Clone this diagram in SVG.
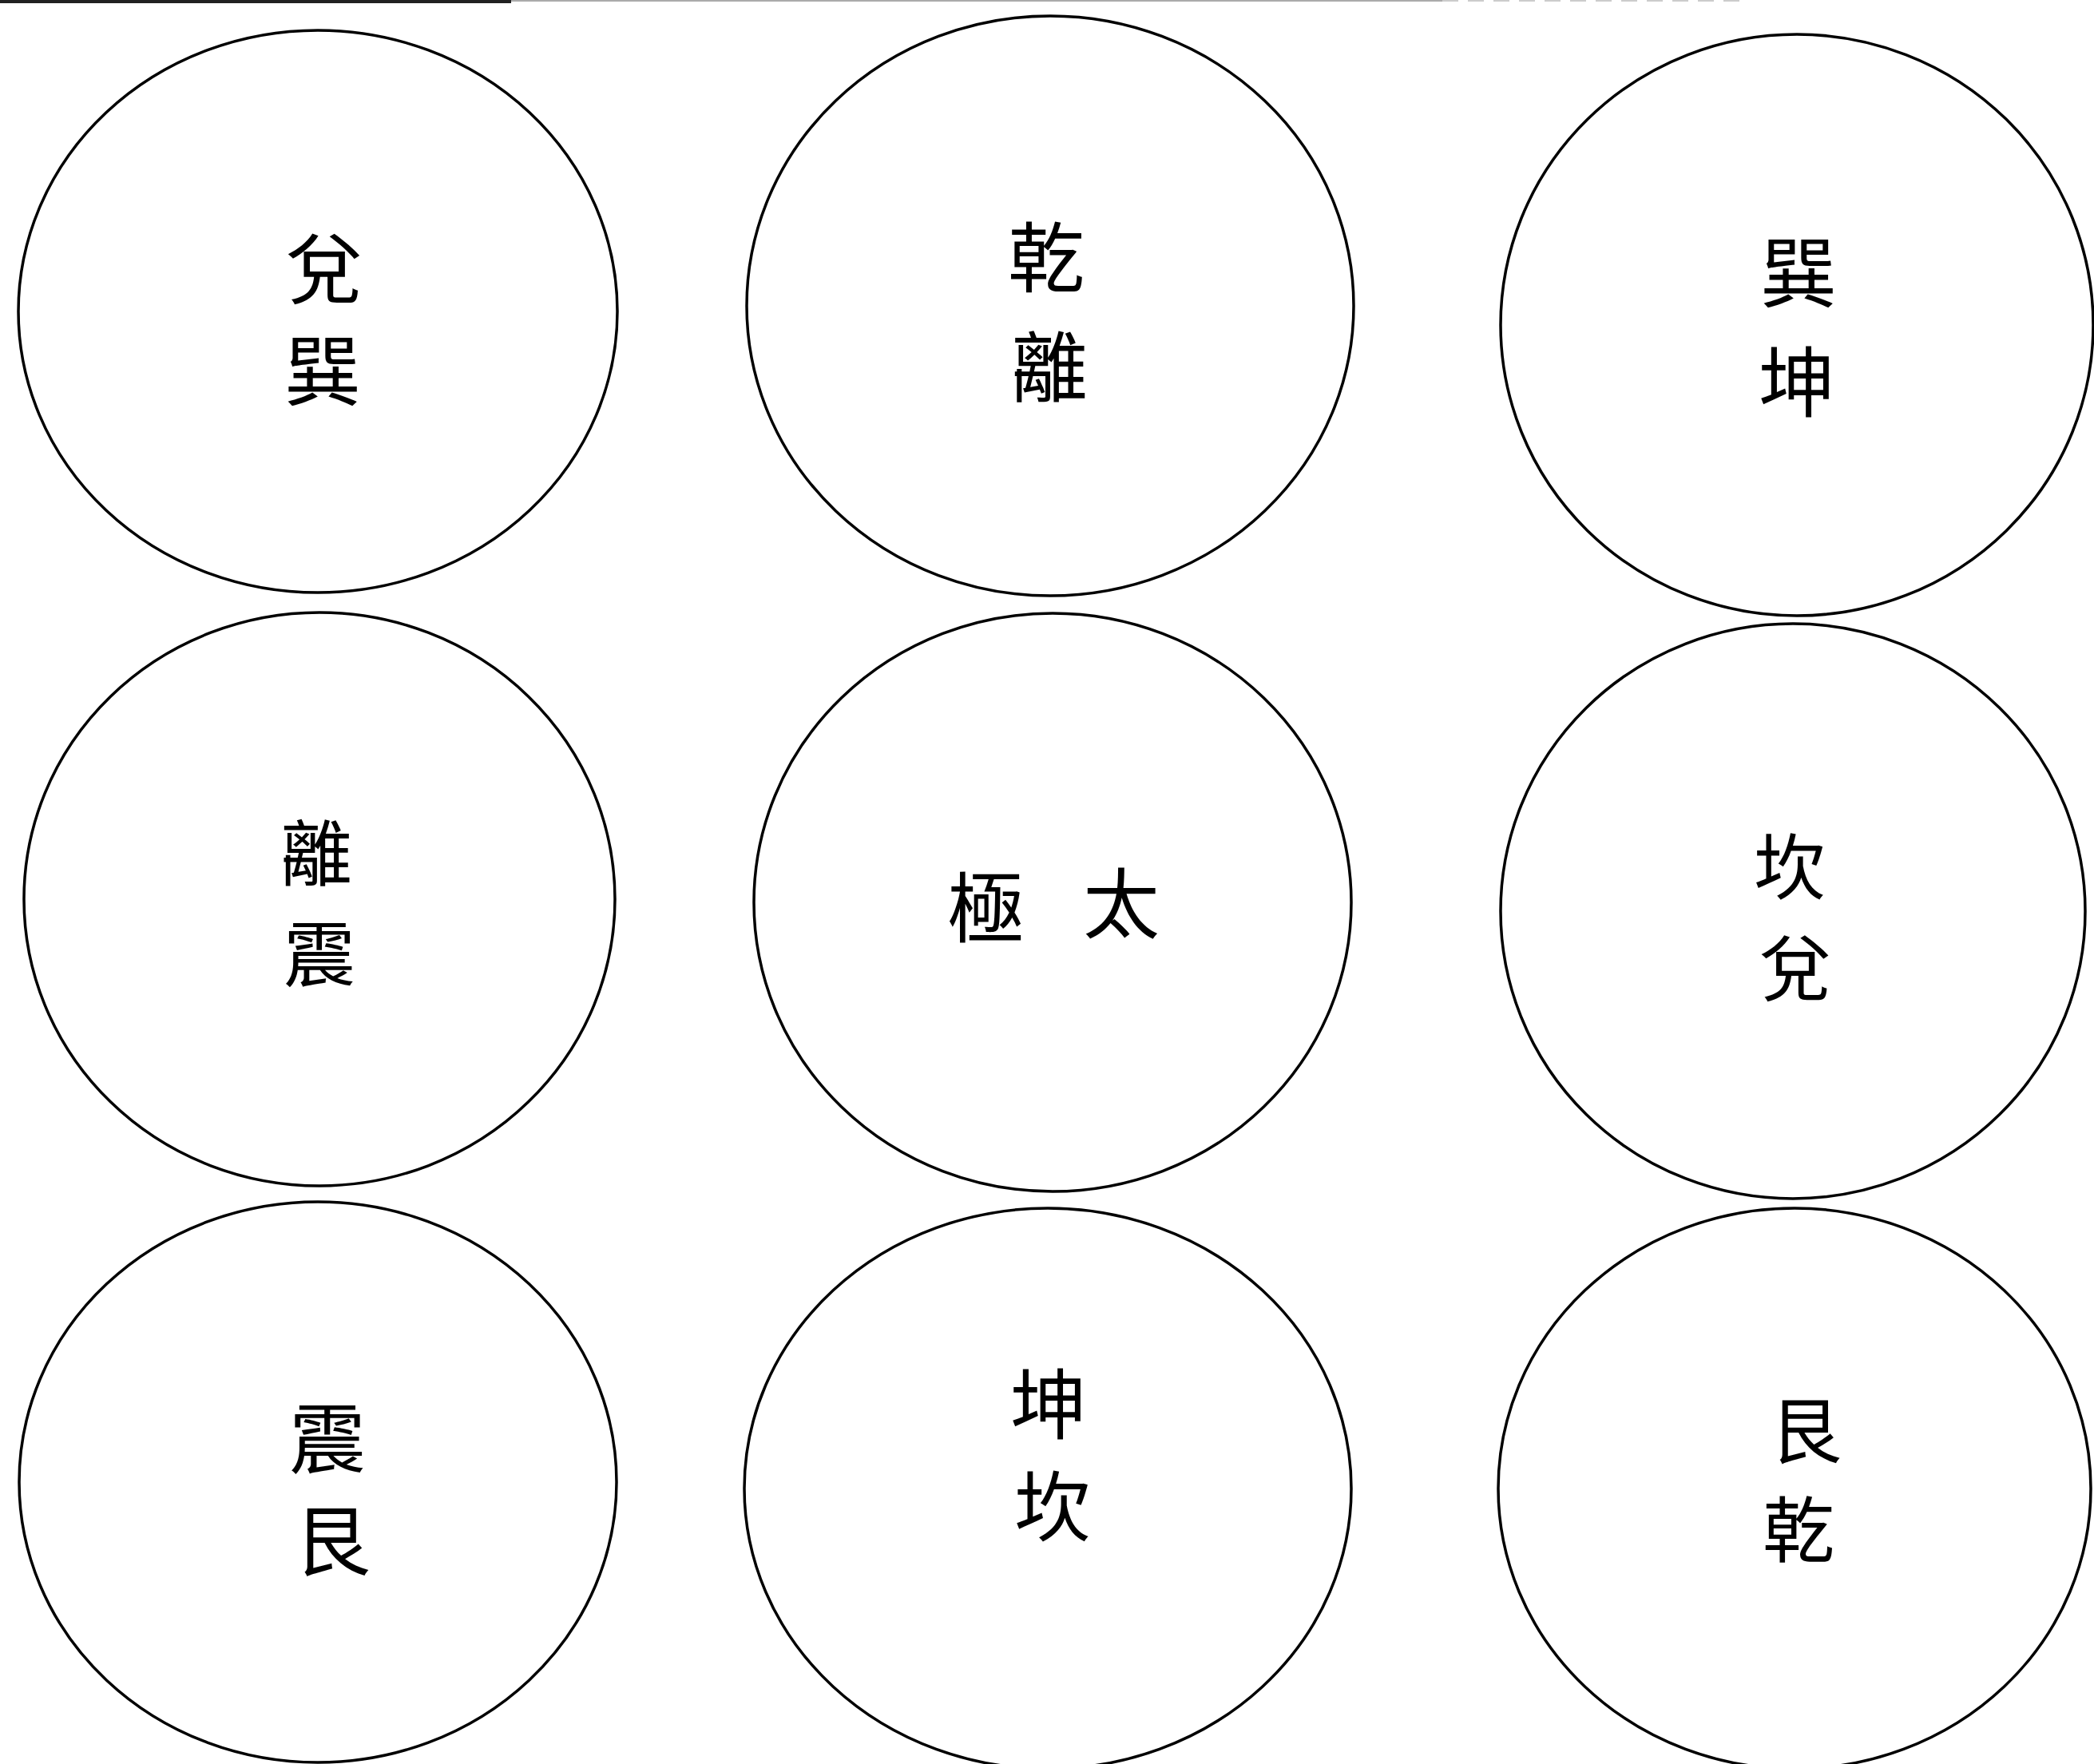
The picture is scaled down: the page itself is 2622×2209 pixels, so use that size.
<svg xmlns="http://www.w3.org/2000/svg" width="2622" height="2209" viewBox="0 0 2622 2209">
<style>
.c{fill:none;stroke:#000;stroke-width:3.5}
.t{font-family:"Noto Sans CJK TC","Noto Sans CJK SC",serif;font-size:96px;fill:#000;text-anchor:middle;dominant-baseline:central}
.s{font-size:90px}
</style>
<rect width="2622" height="2209" fill="#fff"/>
<g id="border">
<line x1="0" y1="2" x2="640" y2="2" stroke="#222" stroke-width="4"/>
<line x1="640" y1="1" x2="1806" y2="1" stroke="#aaa" stroke-width="2"/>
<line x1="1806" y1="1" x2="2190" y2="1" stroke="#ccc" stroke-width="2" stroke-dasharray="20 12"/>
</g>
<g id="n1"><ellipse class="c" cx="398" cy="390" rx="375" ry="352"/><text class="t"><tspan x="406" y="330">兌</tspan><tspan x="404" y="458">巽</tspan></text></g>
<g id="n2"><ellipse class="c" cx="1315" cy="383" rx="380" ry="363"/><text class="t"><tspan x="1310" y="316">乾</tspan><tspan x="1314" y="453">離</tspan></text></g>
<g id="n3"><ellipse class="c" cx="2250" cy="407" rx="371" ry="364"/><text class="t"><tspan x="2252" y="335">巽</tspan><tspan x="2250" y="472">坤</tspan></text></g>
<g id="n4"><ellipse class="c" cx="400" cy="1126" rx="370" ry="359"/><text class="t s"><tspan x="396" y="1063">離</tspan><tspan x="400" y="1189">震</tspan></text></g>
<g id="n5"><ellipse class="c" cx="1318" cy="1130" rx="374" ry="362"/><text class="t"><tspan x="1234" y="1130">極</tspan><tspan x="1404" y="1125">太</tspan></text></g>
<g id="n6"><ellipse class="c" cx="2245" cy="1141" rx="366" ry="360"/><text class="t s"><tspan x="2241" y="1080">坎</tspan><tspan x="2248" y="1207">兌</tspan></text></g>
<g id="n7"><ellipse class="c" cx="398" cy="1856" rx="374" ry="351"/><text class="t"><tspan x="410" y="1795">震</tspan><tspan x="416" y="1923">艮</tspan></text></g>
<g id="n8"><ellipse class="c" cx="1312" cy="1864" rx="380" ry="351"/><text class="t"><tspan x="1313" y="1752">坤</tspan><tspan x="1318" y="1880">坎</tspan></text></g>
<g id="n9"><ellipse class="c" cx="2247" cy="1864" rx="371" ry="351"/><text class="t s"><tspan x="2261" y="1786">艮</tspan><tspan x="2252" y="1910">乾</tspan></text></g>
<g id="connectors"></g>
</svg>
